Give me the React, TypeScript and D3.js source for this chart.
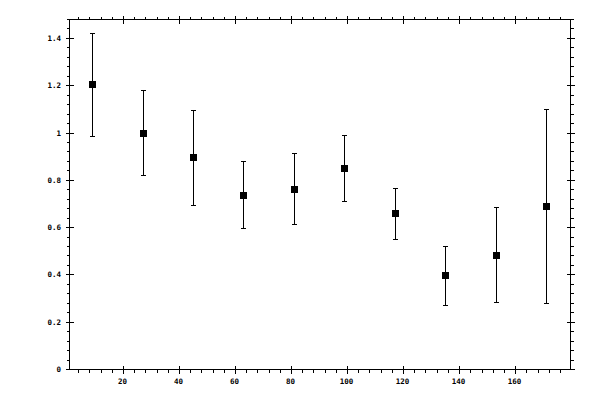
import React from "react";
import * as d3 from "d3";

const xValues = [9, 27, 45, 63, 81, 99, 117, 135, 153, 171];
const yValues = [1.207, 1.0, 0.898, 0.737, 0.762, 0.851, 0.66, 0.397, 0.482, 0.69];
const yUpper = [1.422, 1.178, 1.097, 0.881, 0.915, 0.991, 0.766, 0.52, 0.684, 1.1];
const yLower = [0.987, 0.821, 0.694, 0.597, 0.614, 0.712, 0.551, 0.271, 0.283, 0.28];

const xMajorTicks = [20, 40, 60, 80, 100, 120, 140, 160];
const yMajorTicks = [0, 0.2, 0.4, 0.6, 0.8, 1, 1.2, 1.4];

export default function App() {
  const left = 69.5, right = 570.5, top = 19.5, bottom = 369.5;
  const x = d3.scaleLinear().domain([0.7, 179.6]).range([left, right]);
  const y = d3.scaleLinear().domain([0, 1.48]).range([bottom, top]);

  const xMinor = d3.range(4, 179, 4).filter((v) => v % 20 !== 0);
  const yMinor = d3.range(0, 1.481, 0.04).filter((v) => Math.abs(v / 0.2 - Math.round(v / 0.2)) > 1e-6);

  const sx = (v: number) => Math.round(x(v) - 0.5) + 0.5;
  const sy = (v: number) => Math.round(y(v) - 0.5) + 0.5;

  const font = { fontFamily: "DejaVu Sans Mono", fontSize: 7.5, fontWeight: "bold" as const };

  return (
    <svg
      width={600}
      height={400}
      style={{ position: "absolute", left: 0, top: 0, background: "#fff" }}
      shapeRendering="crispEdges"
    >
      <rect x={left} y={top} width={right - left} height={bottom - top} fill="none" stroke="#000" strokeWidth={1} />
      <g stroke="#000" strokeWidth={1}>
        {xMinor.map((v) => (
          <g key={"xm" + v}>
            <line x1={sx(v)} x2={sx(v)} y1={bottom} y2={bottom + 3} />
            <line x1={sx(v)} x2={sx(v)} y1={top} y2={top - 3} />
          </g>
        ))}
        {xMajorTicks.map((v) => (
          <g key={"xM" + v}>
            <line x1={sx(v)} x2={sx(v)} y1={bottom - 4} y2={bottom + 4} />
            <line x1={sx(v)} x2={sx(v)} y1={top - 4} y2={top + 4} />
          </g>
        ))}
        {yMinor.map((v, i) => (
          <g key={"ym" + i}>
            <line x1={left - 3} x2={left} y1={sy(v)} y2={sy(v)} />
            <line x1={right} x2={right + 3} y1={sy(v)} y2={sy(v)} />
          </g>
        ))}
        {yMajorTicks.map((v) => (
          <g key={"yM" + v}>
            <line x1={left - 4} x2={left + 4} y1={sy(v)} y2={sy(v)} />
            <line x1={right - 4} x2={right + 4} y1={sy(v)} y2={sy(v)} />
          </g>
        ))}
      </g>
      <g {...font} fill="#000">
        {xMajorTicks.map((v) => (
          <text key={"xl" + v} x={x(v) - 1} y={382} textAnchor="middle" dominantBaseline="middle">
            {d3.format("")(v)}
          </text>
        ))}
        {yMajorTicks.map((v) => (
          <text key={"yl" + v} x={61} y={y(v) + 0.5} textAnchor="end" dominantBaseline="middle">
            {String(+v.toFixed(1))}
          </text>
        ))}
      </g>
      <g stroke="#000" strokeWidth={1}>
        {xValues.map((xv, i) => (
          <g key={"eb" + i}>
            <line x1={sx(xv)} x2={sx(xv)} y1={sy(yUpper[i])} y2={sy(yLower[i])} />
            <line x1={sx(xv) - 2.5} x2={sx(xv) + 2.5} y1={sy(yUpper[i])} y2={sy(yUpper[i])} />
            <line x1={sx(xv) - 2.5} x2={sx(xv) + 2.5} y1={sy(yLower[i])} y2={sy(yLower[i])} />
          </g>
        ))}
      </g>
      <g fill="#000">
        {xValues.map((xv, i) => (
          <rect key={"pt" + i} x={sx(xv) - 3.5} y={sy(yValues[i]) - 3.5} width={7} height={7} />
        ))}
      </g>
    </svg>
  );
}
